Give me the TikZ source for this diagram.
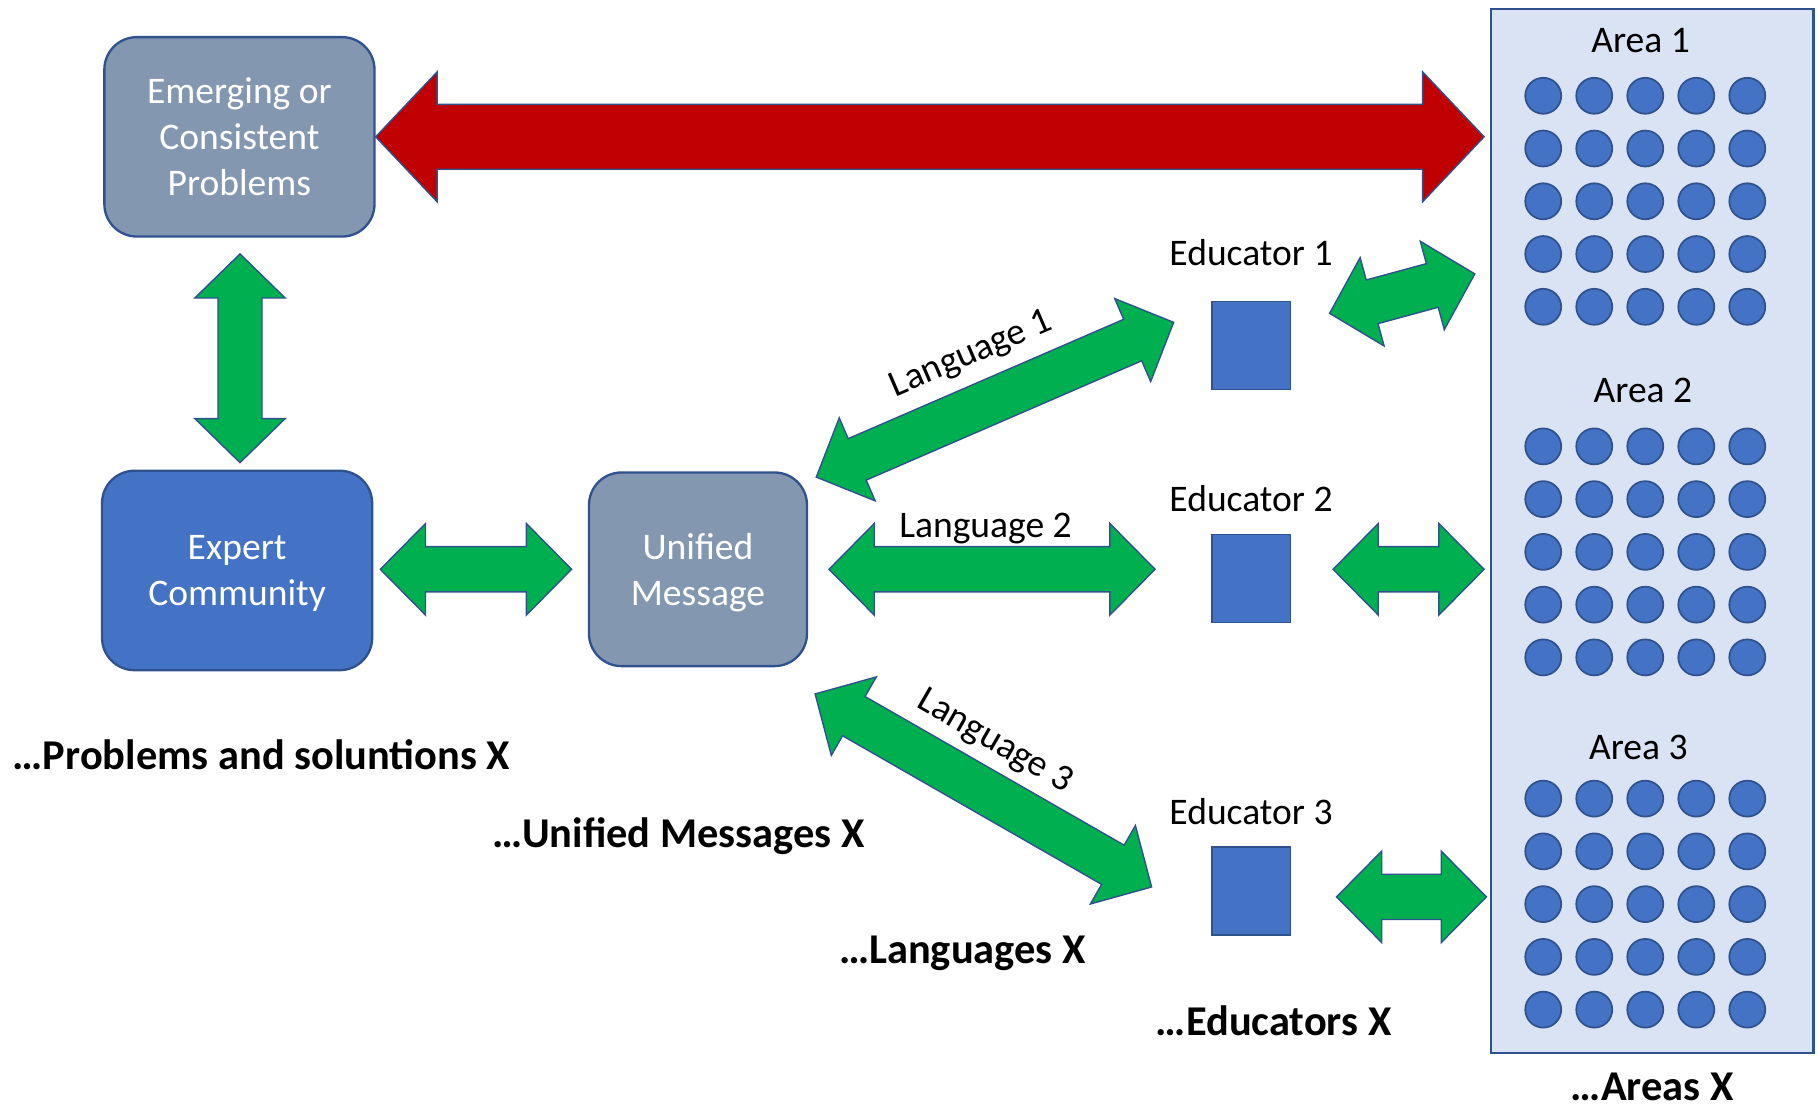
\documentclass[tikz,border=0pt]{standalone}
\usepackage{fontspec}
\setmainfont{Carlito}
\usetikzlibrary{calc,positioning}

\definecolor{boxblue}{HTML}{4472C4}
\definecolor{boxgray}{HTML}{8497B0}
\definecolor{edgeblue}{HTML}{2F528F}
\definecolor{arrowgreen}{HTML}{00B050}
\definecolor{arrowred}{HTML}{C00000}
\definecolor{areafill}{HTML}{DAE3F3}

\tikzset{
  txt/.style={font=\fontsize{32.4}{39.5}\selectfont, inner sep=0pt},
  boldtxt/.style={font=\bfseries\fontsize{36.6}{44}\selectfont, inner sep=0pt},
  box/.style={txt, draw=edgeblue, line width=2pt, rounded corners=28pt, text=white, align=center},
  edbox/.style={draw=edgeblue, line width=1.5pt, fill=boxblue, minimum width=68pt, minimum height=76pt, inner sep=0pt},
  dot/.style={draw=edgeblue, line width=1.5pt, fill=boxblue}
}

%Block arrow with two heads: ends, shaft half width, head half width, head length, fill
\newcommand{\blockarrow}[6]{
  \coordinate (ha) at ($(#1)!#5!(#2)$);
  \coordinate (hb) at ($(#2)!#5!(#1)$);
  \draw[edgeblue, line width=1.2pt, fill=#6]
    (#1) -- ($(ha)!#4!90:(#2)$) -- ($(ha)!#3!90:(#2)$)
    -- ($(hb)!#3!-90:(#1)$) -- ($(hb)!#4!-90:(#1)$)
    -- (#2) -- ($(hb)!#4!90:(#1)$) -- ($(hb)!#3!90:(#1)$)
    -- ($(ha)!#3!-90:(#2)$) -- ($(ha)!#4!-90:(#2)$) -- cycle;
}

\begin{document}
\begin{tikzpicture}[x=1pt,y=-1pt]
\useasboundingbox (0,0) rectangle (1568,956);

%Areas
\node[draw=edgeblue, line width=2pt, fill=areafill, minimum width=278pt, minimum height=900pt] (area) at (1425,458) {};
\node[txt] (area1) at (1415,35) {Area 1};
\node[txt] (area2) at (1417,337) {Area 2};
\node[txt] (area3) at (1413,645) {Area 3};
\foreach \y in {82.6,385,688.8}
{
	\foreach \i in {0,...,4}
	\foreach \j in {0,...,4}
	{
		\draw[dot] (1331+44*\j,\y+45.5*\i) circle (15.5pt);
	}
}

%Boxes
\node[box, fill=boxgray, minimum width=233pt, minimum height=172pt] (P) at (206.5,118) {Emerging or\\Consistent\\Problems};
\node[box, fill=boxblue, minimum width=233pt, minimum height=172pt, text depth=0pt] (E) at (204.5,492) {Expert\\Community};
\node[box, fill=boxgray, minimum width=188pt, minimum height=167pt, text depth=0pt] (U) at (602,491) {Unified\\Message};

%Educators
\node[edbox] (ed1) at (1079,298) {};
\node[edbox] (ed2) at (1079,499) {};
\node[edbox] (ed3) at (1079,768.5) {};
\node[txt] (ed1lbl) at (1079,218) {Educator 1};
\node[txt] (ed2lbl) at (1079,430) {Educator 2};
\node[txt] (ed3lbl) at (1079,700) {Educator 3};

%Arrow ends
\coordinate (r1) at (P.east);
\coordinate (r2) at ($(area.west |- P.east)+(-5,0)$);
\coordinate (v1) at ($(P.south)+(0.5,14)$);
\coordinate (v2) at ($(E.north)+(2.5,-6)$);
\coordinate (h1) at ($(E.east)+(6,-1)$);
\coordinate (h2) at ($(U.west)+(-14,0)$);
\coordinate (l1a) at ($(U.north east)+(7,5)$);
\coordinate (l1b) at ($(ed1.west)+(-32,-20)$);
\coordinate (l2a) at ($(U.east)+(18,0)$);
\coordinate (l2b) at ($(ed2.west |- U.east)+(-48,0)$);
\coordinate (l3a) at ($(U.south east)+(6,23)$);
\coordinate (l3b) at ($(ed3.west)+(-51,-3.5)$);
\coordinate (a1a) at ($(ed1.north east)+(33,11)$);
\coordinate (a1b) at ($(area.west |- ed1.north)+(-13,-23)$);
\coordinate (a2a) at ($(ed2.east |- U.east)+(36,0)$);
\coordinate (a2b) at ($(area.west |- U.east)+(-5,0)$);
\coordinate (a3a) at ($(ed3.east)+(39,5)$);
\coordinate (a3b) at ($(area.west |- ed3.east)+(-3,5)$);

%Arrows
\blockarrow{r1}{r2}{28pt}{56pt}{53pt}{arrowred}
\blockarrow{v1}{v2}{19pt}{39pt}{38pt}{arrowgreen}
\blockarrow{h1}{h2}{19.5pt}{39.5pt}{39pt}{arrowgreen}
\blockarrow{l1a}{l1b}{19.5pt}{39pt}{38.5pt}{arrowgreen}
\blockarrow{l2a}{l2b}{19.5pt}{39.5pt}{39pt}{arrowgreen}
\blockarrow{l3a}{l3b}{19.5pt}{39pt}{38.5pt}{arrowgreen}
\blockarrow{a1a}{a1b}{19.5pt}{39.5pt}{38pt}{arrowgreen}
\blockarrow{a2a}{a2b}{19.5pt}{39.5pt}{39pt}{arrowgreen}
\blockarrow{a3a}{a3b}{19.5pt}{39.5pt}{39pt}{arrowgreen}

%Language labels
\node[txt, rotate=23.3] (lang1) at (838,306) {Language 1};
\node[txt] (lang2) at (850,456) {Language 2};
\node[txt, rotate=-30] (lang3) at (858,640) {Language 3};

%Counts
\node[boldtxt] (nprob) at (225.5,651) {…Problems and soluntions X};
\node[boldtxt] (nmsg) at (585,721) {…Unified Messages X};
\node[boldtxt] (nlang) at (830,822) {…Languages X};
\node[boldtxt] (nedu) at (1098.5,880) {…Educators X};
\node[boldtxt] (narea) at (1425,937) {…Areas X};

\end{tikzpicture}
\end{document}
